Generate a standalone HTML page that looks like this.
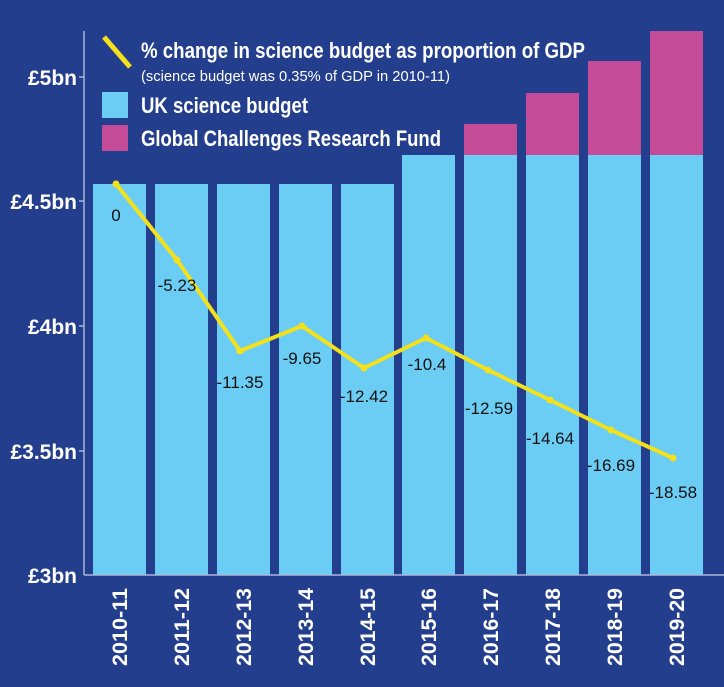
<!DOCTYPE html>
<html><head><meta charset="utf-8"><style>
html,body{margin:0;padding:0;background:#243e8e;}
svg{display:block}
.cb{font-family:"Liberation Sans Narrow","Liberation Sans",sans-serif;font-weight:bold;fill:#fff}
.v{font-family:"Liberation Sans",sans-serif;font-size:17px;fill:#111}
</style></head><body>
<svg width="724" height="687" viewBox="0 0 724 687" xmlns="http://www.w3.org/2000/svg">
<rect width="724" height="687" fill="#243e8e"/>
<g fill="#6bcdf4">
<rect x="93" y="184" width="53" height="391"/>
<rect x="155" y="184" width="53" height="391"/>
<rect x="217" y="184" width="53" height="391"/>
<rect x="279" y="184" width="53" height="391"/>
<rect x="341" y="184" width="53" height="391"/>
<rect x="402" y="155" width="53" height="420"/>
<rect x="464" y="155" width="53" height="420"/>
<rect x="526" y="155" width="53" height="420"/>
<rect x="588" y="155" width="53" height="420"/>
<rect x="650" y="155" width="53" height="420"/>
</g>
<g fill="#c44b97">
<rect x="464" y="124" width="53" height="31"/>
<rect x="526" y="93" width="53" height="62"/>
<rect x="588" y="61" width="53" height="94"/>
<rect x="650" y="31" width="53" height="124"/>
</g>
<g stroke="#aab6d8" stroke-width="1.5">
<line x1="84" y1="31" x2="84" y2="575"/>
<line x1="84" y1="575" x2="724" y2="575"/>
<line x1="79" y1="77" x2="84" y2="77"/>
<line x1="79" y1="201" x2="84" y2="201"/>
<line x1="79" y1="326" x2="84" y2="326"/>
<line x1="79" y1="451" x2="84" y2="451"/>
</g>
<g class="cb" font-size="21" text-anchor="end">
<text x="77" y="85">£5bn</text>
<text x="77" y="209">£4.5bn</text>
<text x="77" y="334">£4bn</text>
<text x="77" y="459">£3.5bn</text>
<text x="77" y="583">£3bn</text>
</g>
<polyline points="116,184 177,260 240,351 302,326 364,368 426,338 488,370 550,400 611,430 673,458" fill="none" stroke="#f5e11b" stroke-width="4" stroke-linejoin="round"/>
<g fill="#f5e11b">
<circle cx="116" cy="184" r="3.5"/><circle cx="177" cy="260" r="3.5"/><circle cx="240" cy="351" r="3.5"/><circle cx="302" cy="326" r="3.5"/><circle cx="364" cy="368" r="3.5"/><circle cx="426" cy="338" r="3.5"/><circle cx="488" cy="370" r="3.5"/><circle cx="550" cy="400" r="3.5"/><circle cx="611" cy="430" r="3.5"/><circle cx="673" cy="458" r="3.5"/>
</g>
<g class="v" text-anchor="middle">
<text x="116" y="221">0</text>
<text x="177" y="291">-5.23</text>
<text x="240" y="388">-11.35</text>
<text x="302" y="364">-9.65</text>
<text x="364" y="402">-12.42</text>
<text x="427" y="370">-10.4</text>
<text x="489" y="414">-12.59</text>
<text x="550" y="444">-14.64</text>
<text x="611" y="471">-16.69</text>
<text x="673" y="498">-18.58</text>
</g>
<line x1="104" y1="37" x2="130" y2="67" stroke="#f5e11b" stroke-width="5"/>
<text class="cb" x="141" y="58" font-size="22" textLength="444" lengthAdjust="spacingAndGlyphs">% change in science budget as proportion of GDP</text>
<text x="141" y="81" font-family="Liberation Sans Narrow,Liberation Sans,sans-serif" font-size="15" fill="#fff" textLength="309" lengthAdjust="spacingAndGlyphs">(science budget was 0.35% of GDP in 2010-11)</text>
<rect x="102" y="92" width="26" height="26" fill="#6bcdf4"/>
<rect x="102" y="125" width="26" height="26" fill="#c44b97"/>
<text class="cb" x="141" y="113" font-size="22" textLength="167" lengthAdjust="spacingAndGlyphs">UK science budget</text>
<text class="cb" x="141" y="146" font-size="22" textLength="300" lengthAdjust="spacingAndGlyphs">Global Challenges Research Fund</text>
<g class="cb" font-size="21" text-anchor="middle">
<text transform="translate(127,627) rotate(-90)" textLength="78" lengthAdjust="spacingAndGlyphs">2010-11</text>
<text transform="translate(189,627) rotate(-90)" textLength="78" lengthAdjust="spacingAndGlyphs">2011-12</text>
<text transform="translate(251,627) rotate(-90)" textLength="78" lengthAdjust="spacingAndGlyphs">2012-13</text>
<text transform="translate(313,627) rotate(-90)" textLength="78" lengthAdjust="spacingAndGlyphs">2013-14</text>
<text transform="translate(375,627) rotate(-90)" textLength="78" lengthAdjust="spacingAndGlyphs">2014-15</text>
<text transform="translate(436,627) rotate(-90)" textLength="78" lengthAdjust="spacingAndGlyphs">2015-16</text>
<text transform="translate(498,627) rotate(-90)" textLength="78" lengthAdjust="spacingAndGlyphs">2016-17</text>
<text transform="translate(560,627) rotate(-90)" textLength="78" lengthAdjust="spacingAndGlyphs">2017-18</text>
<text transform="translate(622,627) rotate(-90)" textLength="78" lengthAdjust="spacingAndGlyphs">2018-19</text>
<text transform="translate(684,627) rotate(-90)" textLength="78" lengthAdjust="spacingAndGlyphs">2019-20</text>
</g>
</svg>
</body></html>
